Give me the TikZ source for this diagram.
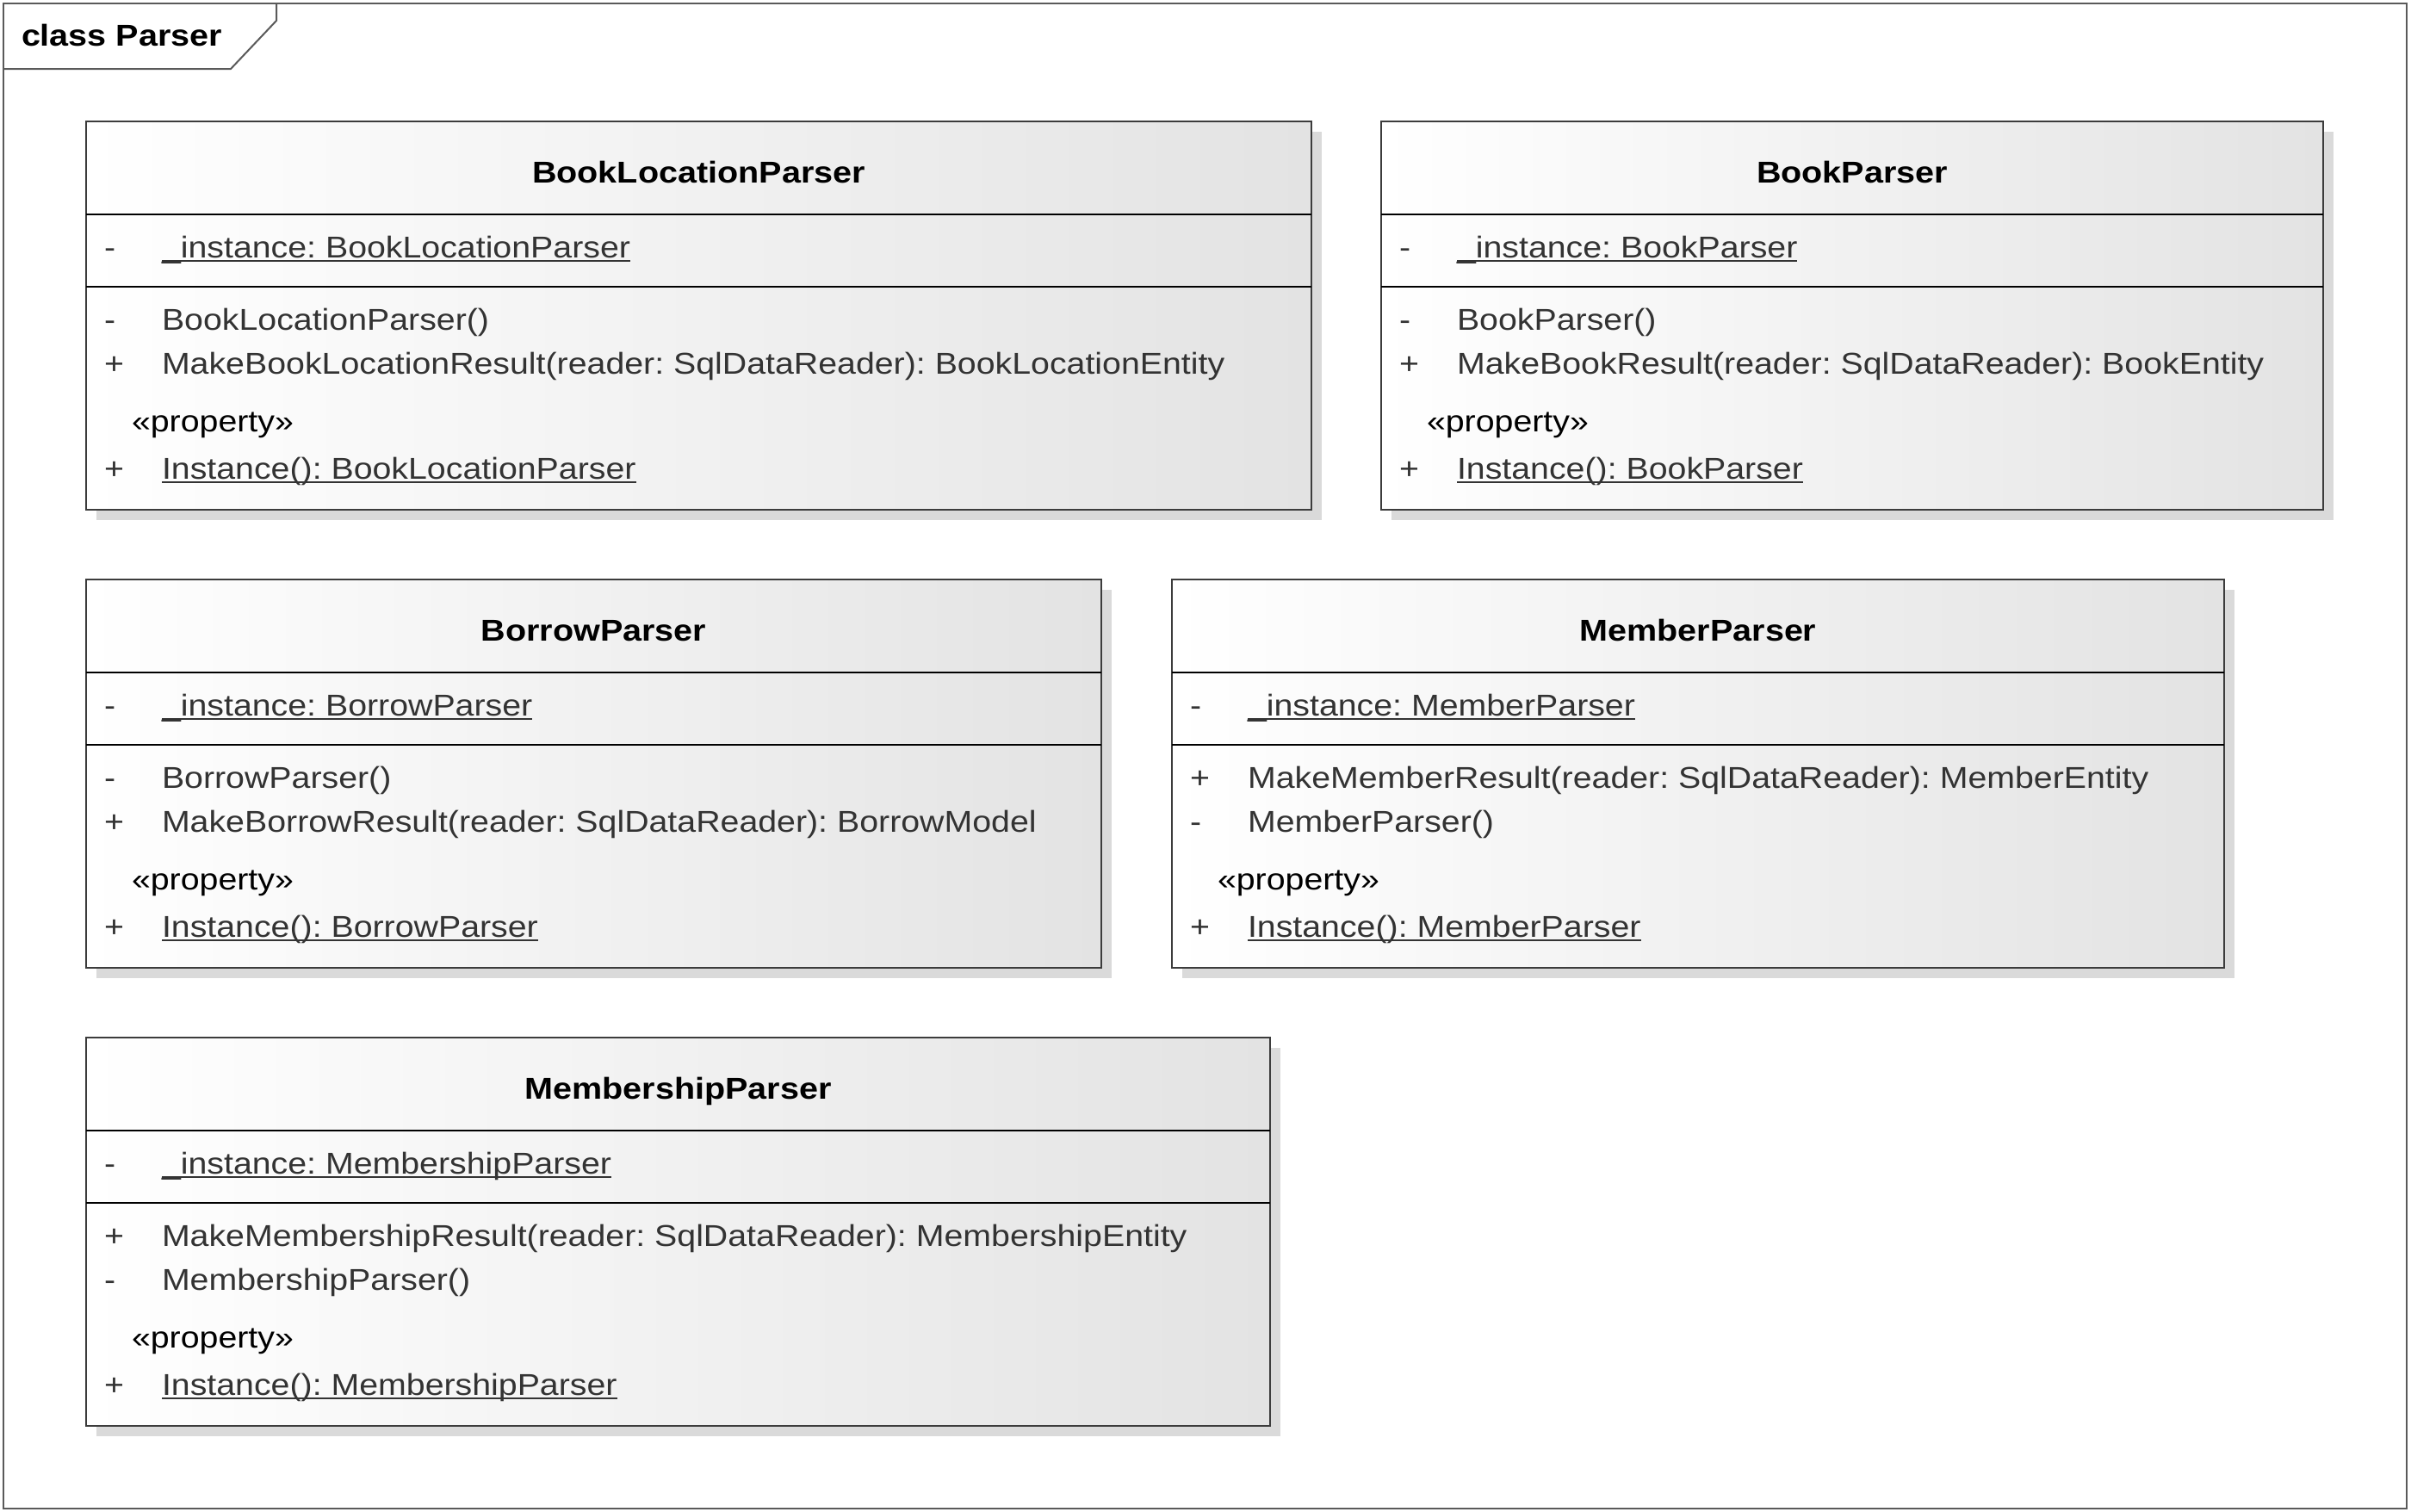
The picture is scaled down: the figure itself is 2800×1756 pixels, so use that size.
\documentclass[tikz,border=0pt]{standalone}
\usepackage{fontspec}
\setmainfont[FakeStretch=1.13]{Liberation Sans}
\newfontfamily\memfont[FakeStretch=1.123]{Liberation Sans}
\frenchspacing
\definecolor{txt}{RGB}{51,51,51}
\definecolor{shad}{RGB}{218,218,218}
\definecolor{edge}{RGB}{60,60,60}
\definecolor{frm}{RGB}{90,90,90}
\tikzset{
  every node/.style={inner sep=0pt, outer sep=0pt},
  boxbody/.style={draw=edge, line width=2pt, left color=white, right color=black!11},
  mem/.style={font=\memfont\fontsize{35}{40}\selectfont\frenchspacing, text=txt, anchor=base west},
  ttl/.style={font=\fontsize{35}{40}\selectfont\bfseries, text=black, anchor=base},
  ster/.style={font=\memfont\fontsize{35}{40}\selectfont, text=black, anchor=base west},
  uline/.style={draw=txt, line width=1.5pt},
  divider/.style={line width=2pt, draw=black},
  frameline/.style={line width=2pt, draw=frm},
}
\newcommand\umlbox[5]{% name x y w title
  \fill[shad] (#2+12,#3+12) rectangle (#2+#4+12,#3+463);
  \node[boxbody, minimum width=#4pt, minimum height=451pt, anchor=north west] (#1) at (#2,#3) {};
  \draw[divider] (#2,#3+108) -- (#2+#4,#3+108);
  \draw[divider] (#2,#3+192) -- (#2+#4,#3+192);
  \node[ttl] (#1-title) at (#2+#4/2,#3+71) {#5};
}
\newcommand\umlattr[4]{% name x y attr
  \node[mem] (#1-as) at (#2+21,#3+158) {-};
  \node[mem] (#1-a) at (#2+88,#3+158) {#4};
  \draw[uline] ([yshift=-4pt]#1-a.base west) -- ([yshift=-4pt]#1-a.base east);
}
\newcommand\umlops[7]{% name x y s1 m1 s2 m2
  \node[mem] (#1-s1) at (#2+21,#3+242) {#4};
  \node[mem] (#1-m1) at (#2+88,#3+242) {#5};
  \node[mem] (#1-s2) at (#2+21,#3+293) {#6};
  \node[mem] (#1-m2) at (#2+88,#3+293) {#7};
  \node[ster] (#1-st) at (#2+53,#3+360) {«property»};
  \node[mem] (#1-ps) at (#2+21,#3+415) {+};
}
\newcommand\umlinst[4]{% name x y text
  \node[mem] (#1-i) at (#2+88,#3+415) {#4};
  \draw[uline] ([yshift=-4pt]#1-i.base west) -- ([yshift=-4pt]#1-i.base east);
}
\begin{document}
\begin{tikzpicture}[x=1pt,y=-1pt]
\useasboundingbox (0,0) rectangle (2800,1756);
\fill[white] (0,0) rectangle (2800,1756);
% outer frame
\draw[frameline] (4,4) rectangle (2795,1752);
\coordinate (tabA) at (4,80);
\coordinate (tabB) at (268,80);
\coordinate (tabC) at (321,24);
\coordinate (tabD) at (321,4);
\draw[frameline] (tabA) -- (tabB) -- (tabC) -- (tabD);
\node[font=\fontsize{35}{40}\selectfont\bfseries, anchor=base west] (frametitle) at (25,53) {class Parser};

% BookLocationParser
\umlbox{blp}{100}{141}{1423}{BookLocationParser}
\umlattr{blp}{100}{141}{\_instance: BookLocationParser}
\umlops{blp}{100}{141}{-}{BookLocationParser()}{+}{MakeBookLocationResult(reader: SqlDataReader): BookLocationEntity}
\umlinst{blp}{100}{141}{Instance(): BookLocationParser}

% BookParser
\umlbox{bp}{1604}{141}{1094}{BookParser}
\umlattr{bp}{1604}{141}{\_instance: BookParser}
\umlops{bp}{1604}{141}{-}{BookParser()}{+}{MakeBookResult(reader: SqlDataReader): BookEntity}
\umlinst{bp}{1604}{141}{Instance(): BookParser}

% BorrowParser
\umlbox{brp}{100}{673}{1179}{BorrowParser}
\umlattr{brp}{100}{673}{\_instance: BorrowParser}
\umlops{brp}{100}{673}{-}{BorrowParser()}{+}{MakeBorrowResult(reader: SqlDataReader): BorrowModel}
\umlinst{brp}{100}{673}{Instance(): BorrowParser}

% MemberParser
\umlbox{mp}{1361}{673}{1222}{MemberParser}
\umlattr{mp}{1361}{673}{\_instance: MemberParser}
\umlops{mp}{1361}{673}{+}{MakeMemberResult(reader: SqlDataReader): MemberEntity}{-}{MemberParser()}
\umlinst{mp}{1361}{673}{Instance(): MemberParser}

% MembershipParser
\umlbox{msp}{100}{1205}{1375}{MembershipParser}
\umlattr{msp}{100}{1205}{\_instance: MembershipParser}
\umlops{msp}{100}{1205}{+}{MakeMembershipResult(reader: SqlDataReader): MembershipEntity}{-}{MembershipParser()}
\umlinst{msp}{100}{1205}{Instance(): MembershipParser}
\end{tikzpicture}
\end{document}
